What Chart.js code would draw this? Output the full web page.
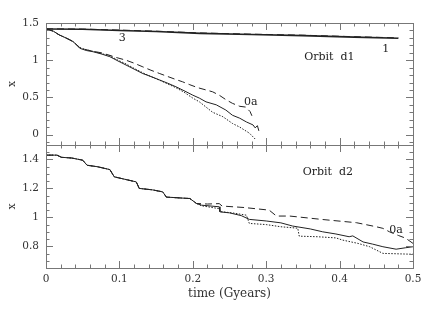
<!DOCTYPE html>
<html>
<head>
<meta charset="utf-8">
<script src="https://cdn.jsdelivr.net/npm/chart.js@4.4.1/dist/chart.umd.min.js"></script>
<style>
body { margin: 0; background: #fff; width: 436px; height: 310px; overflow: hidden; position: relative; }
canvas { position: absolute; left: 0; }
#top { top: 0; }
#bot { top: 140px; }
</style>
</head>
<body>
<canvas id="top" width="436" height="145"></canvas>
<canvas id="bot" width="436" height="170"></canvas>
<script>
// ticks
const xTicks = [0, 0.1, 0.2, 0.3, 0.4, 0.5];
const xTickLabels = ['0', '0.1', '0.2', '0.3', '0.4', '0.5'];
const yTopTicks = [0, 0.5, 1, 1.5];
const yTopTickLabels = ['0', '0.5', '1', '1.5'];
const yBotTicks = [0.8, 1, 1.2, 1.4];
const yBotTickLabels = ['0.8', '1', '1.2', '1.4'];

// orbit d1 - slow curves (1, 3)
const d1FlatT = [0, 0.05, 0.1, 0.15, 0.21, 0.28, 0.35, 0.42, 0.48];
const d1FlatSolid = [1.42, 1.415, 1.40, 1.385, 1.36, 1.345, 1.33, 1.31, 1.295];
const d1FlatDashed = [1.422, 1.418, 1.405, 1.39, 1.366, 1.35, 1.336, 1.316, 1.30];

// orbit d1 - 0a curves
const d1SolidT = [0, 0.01, 0.018, 0.027, 0.037, 0.046, 0.055, 0.064, 0.075, 0.087, 0.098, 0.109, 0.12, 0.132, 0.143, 0.155, 0.166, 0.177, 0.188, 0.2, 0.209, 0.218, 0.232, 0.245, 0.254, 0.264, 0.273, 0.282, 0.285, 0.288, 0.29];
const d1Solid = [1.42, 1.39, 1.34, 1.30, 1.25, 1.16, 1.13, 1.114, 1.085, 1.047, 0.99, 0.935, 0.88, 0.82, 0.78, 0.733, 0.69, 0.643, 0.59, 0.53, 0.49, 0.44, 0.40, 0.33, 0.26, 0.22, 0.17, 0.13, 0.09, 0.12, 0.05];
const d1DottedT = [0, 0.01, 0.018, 0.027, 0.037, 0.046, 0.055, 0.064, 0.075, 0.087, 0.098, 0.109, 0.12, 0.132, 0.143, 0.155, 0.166, 0.177, 0.188, 0.2, 0.209, 0.218, 0.227, 0.241, 0.254, 0.264, 0.277, 0.286];
const d1Dotted = [1.42, 1.39, 1.34, 1.30, 1.25, 1.17, 1.14, 1.12, 1.09, 1.06, 1.0, 0.95, 0.89, 0.83, 0.78, 0.73, 0.68, 0.63, 0.57, 0.49, 0.44, 0.37, 0.30, 0.24, 0.15, 0.10, 0.02, -0.07];
const d1DashedT = [0, 0.01, 0.018, 0.027, 0.037, 0.046, 0.055, 0.064, 0.075, 0.087, 0.098, 0.109, 0.12, 0.132, 0.143, 0.155, 0.166, 0.177, 0.186, 0.196, 0.207, 0.218, 0.227, 0.236, 0.245, 0.254, 0.264, 0.272, 0.278, 0.282];
const d1Dashed = [1.42, 1.39, 1.34, 1.30, 1.25, 1.17, 1.14, 1.12, 1.10, 1.065, 1.03, 1.0, 0.96, 0.91, 0.865, 0.82, 0.78, 0.74, 0.71, 0.67, 0.63, 0.60, 0.575, 0.53, 0.47, 0.42, 0.38, 0.37, 0.31, 0.22];

// orbit d2 - shared start, then three curves
const d2CommonT = [0, 0.015, 0.021, 0.035, 0.05, 0.056, 0.07, 0.087, 0.093, 0.11, 0.123, 0.127, 0.145, 0.159, 0.164, 0.18, 0.196, 0.205];
const d2Common = [1.43, 1.43, 1.415, 1.41, 1.395, 1.36, 1.35, 1.33, 1.28, 1.26, 1.245, 1.20, 1.19, 1.176, 1.14, 1.135, 1.13, 1.096];
const d2DashedT = [0.22, 0.236, 0.24, 0.27, 0.304, 0.314, 0.332, 0.377, 0.423, 0.45, 0.459, 0.468, 0.48, 0.49, 0.5];
const d2Dashed = [1.092, 1.095, 1.078, 1.068, 1.05, 1.009, 1.009, 0.985, 0.963, 0.935, 0.924, 0.90, 0.875, 0.856, 0.82];
const d2SolidT = [0.212, 0.236, 0.237, 0.25, 0.266, 0.277, 0.3, 0.32, 0.336, 0.36, 0.377, 0.395, 0.413, 0.418, 0.432, 0.445, 0.459, 0.477, 0.49, 0.5];
const d2Solid = [1.084, 1.073, 1.038, 1.031, 1.012, 0.986, 0.975, 0.962, 0.94, 0.92, 0.90, 0.885, 0.866, 0.872, 0.83, 0.815, 0.797, 0.78, 0.79, 0.797];
const d2DottedT = [0.212, 0.236, 0.237, 0.255, 0.273, 0.277, 0.3, 0.32, 0.343, 0.345, 0.37, 0.395, 0.404, 0.425, 0.441, 0.45, 0.459, 0.486, 0.5];
const d2Dotted = [1.08, 1.06, 1.04, 1.03, 1.015, 0.958, 0.95, 0.935, 0.925, 0.87, 0.866, 0.858, 0.843, 0.82, 0.797, 0.774, 0.751, 0.747, 0.745];

const topLabels = [
    { x: 0.104, y: 1.30, text: '3' },
    { x: 0.463, y: 1.15, text: '1' },
    { x: 0.386, y: 1.04, text: 'Orbit  d1' },
    { x: 0.279, y: 0.44, text: '0a' }
];
const botLabels = [
    { x: 0.384, y: 1.312, text: 'Orbit  d2' },
    { x: 0.477, y: 0.912, text: '0a' }
];

const FONT = '"DejaVu Serif", serif';
const INK = '#222';

const pts = (ts, vs) => ts.map((t, i) => ({ x: t, y: vs[i] }));
const line = (data, dash, width) => ({
    data: data,
    borderColor: INK,
    borderWidth: width || 1,
    borderDash: dash,
    pointRadius: 0,
    fill: false,
    tension: 0
});
const SOLID = [], DASH = [7, 4], DOT = [1.5, 1.5];

function steps(lo, hi, step) {
    const out = [];
    for (let v = lo; v <= hi + 1e-9; v += step) out.push(+v.toFixed(4));
    return out;
}

// frame with inward ticks on all four sides
const frameTicks = {
    id: 'frameTicks',
    afterDatasetsDraw(chart, args, o) {
        const { ctx, chartArea: a, scales: { x, y } } = chart;
        ctx.save();
        ctx.strokeStyle = '#777';
        ctx.lineWidth = 1;
        ctx.setLineDash([]);
        ctx.strokeRect(Math.round(a.left) + 0.5, Math.round(a.top) + 0.5,
            Math.round(a.right - a.left), Math.round(a.bottom - a.top));
        ctx.beginPath();
        const xs = (vals, len) => vals.forEach(v => {
            const p = Math.round(x.getPixelForValue(v)) + 0.5;
            ctx.moveTo(p, a.bottom); ctx.lineTo(p, a.bottom - len);
            ctx.moveTo(p, a.top); ctx.lineTo(p, a.top + len);
        });
        const ys = (vals, len) => vals.forEach(v => {
            const p = Math.round(y.getPixelForValue(v)) + 0.5;
            ctx.moveTo(a.left, p); ctx.lineTo(a.left + len, p);
            ctx.moveTo(a.right, p); ctx.lineTo(a.right - len, p);
        });
        xs(steps(0, 0.5, 0.02), 3.5);
        xs(o.xMajor, 7);
        ys(steps(o.yMin, o.yMax, o.yMinorStep), 3.5);
        ys(o.yMajor, 7);
        ctx.stroke();
        ctx.restore();
    }
};

const textLabels = {
    id: 'textLabels',
    afterDatasetsDraw(chart, args, o) {
        const { ctx, scales: { x, y } } = chart;
        ctx.save();
        ctx.font = '11px ' + FONT;
        ctx.fillStyle = INK;
        ctx.textAlign = 'center';
        ctx.textBaseline = 'middle';
        o.items.forEach(l => ctx.fillText(l.text, x.getPixelForValue(l.x), y.getPixelForValue(l.y)));
        ctx.restore();
    }
};

const noEdgePad = s => { s.paddingTop = 0; s.paddingBottom = 0; s.paddingLeft = 0; s.paddingRight = 0; };

function yScale(min, max, ticks, labels) {
    return {
        type: 'linear',
        min: min,
        max: max,
        grid: { display: false, drawTicks: false },
        border: { display: false },
        afterBuildTicks: s => { s.ticks = ticks.map(v => ({ value: v })); },
        afterFit: s => { s.width = 46; noEdgePad(s); },
        ticks: {
            padding: 7,
            color: '#333',
            font: { family: FONT, size: 10.5 },
            callback: v => labels[ticks.indexOf(v)]
        },
        title: { display: true, text: 'x', color: '#333', font: { family: FONT, size: 11 }, padding: { top: 6, bottom: 0 } }
    };
}

Chart.defaults.animation = false;

new Chart(document.getElementById('top'), {
    type: 'line',
    data: {
        datasets: [
            line(pts(d1FlatT, d1FlatSolid), SOLID, 1.6),
            line(pts(d1FlatT, d1FlatDashed), DASH, 1),
            line(pts(d1SolidT, d1Solid), SOLID),
            line(pts(d1DottedT, d1Dotted), DOT),
            line(pts(d1DashedT, d1Dashed), DASH)
        ]
    },
    options: {
        responsive: false,
        layout: { padding: { top: 23, right: 23, left: 0, bottom: 0 } },
        plugins: {
            legend: { display: false },
            tooltip: { enabled: false },
            frameTicks: { xMajor: xTicks, yMajor: yTopTicks, yMin: -0.1, yMax: 1.5, yMinorStep: 0.1 },
            textLabels: { items: topLabels }
        },
        scales: {
            x: {
                type: 'linear', min: 0, max: 0.5,
                grid: { display: false, drawTicks: false },
                border: { display: false },
                ticks: { display: false },
                afterFit: s => { s.height = 0; noEdgePad(s); }
            },
            y: yScale(-0.14, 1.5, yTopTicks, yTopTickLabels)
        }
    },
    plugins: [frameTicks, textLabels]
});

new Chart(document.getElementById('bot'), {
    type: 'line',
    data: {
        datasets: [
            line(pts(d2CommonT.concat(d2SolidT), d2Common.concat(d2Solid)), SOLID),
            line(pts(d2CommonT.concat(d2DottedT), d2Common.concat(d2Dotted)), DOT),
            line(pts(d2CommonT.concat(d2DashedT), d2Common.concat(d2Dashed)), DASH)
        ]
    },
    options: {
        responsive: false,
        layout: { padding: { top: 5, right: 23, left: 0, bottom: 0 } },
        plugins: {
            legend: { display: false },
            tooltip: { enabled: false },
            frameTicks: { xMajor: xTicks, yMajor: yBotTicks, yMin: 0.65, yMax: 1.5, yMinorStep: 0.05 },
            textLabels: { items: botLabels }
        },
        scales: {
            x: {
                type: 'linear', min: 0, max: 0.5,
                grid: { display: false, drawTicks: false },
                border: { display: false },
                afterBuildTicks: s => { s.ticks = xTicks.map(v => ({ value: v })); },
                afterFit: s => { s.height = 42; noEdgePad(s); },
                ticks: {
                    padding: 5,
                    color: '#333',
                    maxRotation: 0,
                    font: { family: FONT, size: 10.5 },
                    callback: v => xTickLabels[xTicks.indexOf(v)]
                },
                title: { display: true, text: 'time (Gyears)', color: '#333', font: { family: FONT, size: 12 }, padding: { top: 0, bottom: 9 } }
            },
            y: yScale(0.65, 1.5, yBotTicks, yBotTickLabels)
        }
    },
    plugins: [frameTicks, textLabels]
});
</script>
</body>
</html>
